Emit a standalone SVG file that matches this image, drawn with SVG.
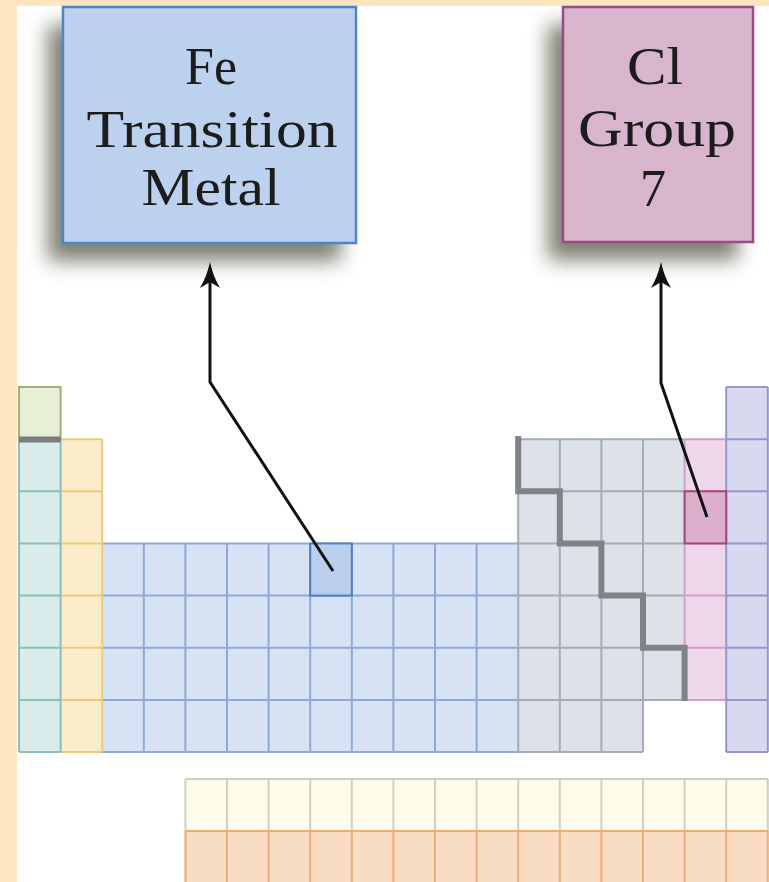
<svg xmlns="http://www.w3.org/2000/svg" width="769" height="882" viewBox="0 0 769 882">
  <style>
    .label { font-family: "Liberation Serif", "Times New Roman", serif; font-size: 52px; fill: #1c1c1c; text-anchor: middle; }
    .cell { stroke-width: 2; }
    .grid { fill: none; stroke-width: 2; }
    .wire { fill: none; stroke: #111; stroke-width: 3; stroke-linejoin: miter; }
    .shadow { fill: #5e5e50; filter: url(#soft); opacity: 0.8; }
  </style>
  <defs>
    <filter id="soft" x="-30%" y="-30%" width="160%" height="160%">
      <feGaussianBlur stdDeviation="10"/>
    </filter>
    <marker id="head" viewBox="0 0 26 22" refX="20" refY="11" markerWidth="26" markerHeight="22" markerUnits="userSpaceOnUse" orient="auto">
      <path d="M0,1 Q12,8 26,11 Q12,14 0,21 L6,11 Z" fill="#111"/>
    </marker>
  </defs>

  <!-- page frame -->
  <rect x="0" y="0" width="769" height="882" fill="#ffffff"/>

  <!-- callout shadows sit under the frame strip -->
  <rect class="shadow" x="48" y="25" width="293" height="236"/>
  <rect class="shadow" x="548" y="25" width="190" height="235"/>

  <rect x="0" y="0" width="17" height="882" fill="#fde6bf"/>
  <rect x="0" y="0" width="769" height="6" fill="#fde6bf"/>

  <!-- periodic table blocks -->
  <g id="table">
    <!-- transition metals: cols 3-12, periods 4-7 -->
    <g id="transition-metals">
      <rect x="102.2" y="543.45" width="416" height="208.6" fill="#d7e3f5"/>
      <path class="grid" stroke="#8fa8d5" d="M102.2,543.45 H518.2 M102.2,595.6 H518.2 M102.2,647.75 H518.2 M102.2,699.9 H518.2 M102.2,752.05 H518.2
        M143.8,543.45 V752.05 M185.4,543.45 V752.05 M227,543.45 V752.05 M268.6,543.45 V752.05 M310.2,543.45 V752.05
        M351.8,543.45 V752.05 M393.4,543.45 V752.05 M435,543.45 V752.05 M476.6,543.45 V752.05"/>
    </g>
    <!-- p-block -->
    <g id="p-block">
      <path d="M518.2,439.2 H684.6 V699.9 H643 V752.05 H518.2 Z" fill="#dde2e9"/>
      <path class="grid" stroke="#a3abb6" d="M518.2,439.2 H684.6 M518.2,491.3 H684.6 M518.2,543.45 H684.6 M518.2,595.6 H684.6 M518.2,647.75 H684.6 M518.2,699.9 H684.6 M518.2,752.05 H643
        M518.2,439.2 V752.05 M559.8,439.2 V752.05 M601.4,439.2 V752.05 M643,439.2 V752.05"/>
    </g>
    <!-- halogens -->
    <g id="halogens">
      <rect x="684.6" y="439.2" width="41.6" height="260.7" fill="#eed7ea"/>
      <path class="grid" stroke="#cf9fc6" d="M684.6,439.2 H726.2 M684.6,491.3 H726.2 M684.6,543.45 H726.2 M684.6,595.6 H726.2 M684.6,647.75 H726.2 M684.6,699.9 H726.2
        M684.6,439.2 V699.9"/>
    </g>
    <!-- noble gases -->
    <g id="noble-gases">
      <rect x="726.2" y="387" width="41.6" height="365.05" fill="#d7d9ef"/>
      <path class="grid" stroke="#9496cf" d="M726.2,387 H767.8 M726.2,439.2 H767.8 M726.2,491.3 H767.8 M726.2,543.45 H767.8 M726.2,595.6 H767.8 M726.2,647.75 H767.8 M726.2,699.9 H767.8 M726.2,752.05 H767.8
        M726.2,387 V752.05 M767.8,387 V752.05"/>
    </g>
    <!-- group 2 -->
    <g id="group-2">
      <rect x="60.6" y="439.2" width="41.6" height="312.85" fill="#fdecca"/>
      <path class="grid" stroke="#ecca7c" d="M60.6,439.2 H102.2 M60.6,491.3 H102.2 M60.6,543.45 H102.2 M60.6,595.6 H102.2 M60.6,647.75 H102.2 M60.6,699.9 H102.2 M60.6,752.05 H102.2
        M102.2,439.2 V752.05"/>
    </g>
    <!-- group 1 -->
    <g id="group-1">
      <rect x="19" y="439.2" width="41.6" height="312.85" fill="#d9ecea"/>
      <path class="grid" stroke="#86c0c0" d="M19,439.2 H60.6 M19,491.3 H60.6 M19,543.45 H60.6 M19,595.6 H60.6 M19,647.75 H60.6 M19,699.9 H60.6 M19,752.05 H60.6
        M19,439.2 V752.05 M60.6,439.2 V752.05"/>
    </g>
    <!-- hydrogen -->
    <rect id="hydrogen" class="cell" x="19" y="387" width="41.6" height="52.2" fill="#e6f0d5" stroke="#a2ae7c"/>
    <line x1="19" y1="439.5" x2="60.6" y2="439.5" stroke="#7b7c7e" stroke-width="6"/>

    <!-- metal / non-metal divide -->
    <path d="M518.2,436 V491.3 H559.8 V543.45 H601.4 V595.6 H643 V647.75 H684.6 V701" fill="none" stroke="#808285" stroke-width="6" stroke-linejoin="miter"/>

    <!-- highlighted elements -->
    <rect id="fe-cell" class="cell" x="310.2" y="543.45" width="41.6" height="52.15" fill="#b9cfec" stroke="#4c81c2"/>
    <rect id="cl-cell" class="cell" x="684.6" y="491.3" width="41.6" height="52.15" fill="#dcb0cc" stroke="#a9437e"/>

    <!-- lanthanides and actinides -->
    <g id="f-block">
      <rect x="185.4" y="779" width="582.4" height="52" fill="#fffcec"/>
      <rect x="185.4" y="831" width="582.4" height="52" fill="#f8dcc3"/>
      <path class="grid" stroke="#cfcfbf" d="M185.4,779 H767.8
        M185.4,779 V831 M227,779 V831 M268.6,779 V831 M310.2,779 V831 M351.8,779 V831 M393.4,779 V831 M435,779 V831
        M476.6,779 V831 M518.2,779 V831 M559.8,779 V831 M601.4,779 V831 M643,779 V831 M684.6,779 V831 M726.2,779 V831 M767.8,779 V831"/>
      <path class="grid" stroke="#efad6e" d="M185.4,831 H767.8
        M185.4,831 V883 M227,831 V883 M268.6,831 V883 M310.2,831 V883 M351.8,831 V883 M393.4,831 V883 M435,831 V883
        M476.6,831 V883 M518.2,831 V883 M559.8,831 V883 M601.4,831 V883 M643,831 V883 M684.6,831 V883 M726.2,831 V883 M767.8,831 V883"/>
    </g>
  </g>

  <!-- callout boxes -->
  <g id="fe-box">
    <rect x="63" y="7" width="293" height="236" fill="#bcd1ed" stroke="#4d86c6" stroke-width="2.5"/>
    <text class="label" x="211" y="84">Fe</text>
    <text class="label" x="212" y="147" textLength="251" lengthAdjust="spacingAndGlyphs">Transition</text>
    <text class="label" x="211" y="205" textLength="139" lengthAdjust="spacingAndGlyphs">Metal</text>
  </g>
  <g id="cl-box">
    <rect x="563" y="7" width="190" height="235" fill="#d8b5cd" stroke="#9c4a86" stroke-width="2.5"/>
    <text class="label" x="655" y="84" textLength="56" lengthAdjust="spacingAndGlyphs">Cl</text>
    <text class="label" x="657" y="146" textLength="158" lengthAdjust="spacingAndGlyphs">Group</text>
    <text class="label" x="653" y="206">7</text>
  </g>

  <!-- connectors -->
  <g id="connectors">
    <polyline class="wire" points="333,571 210,382 210,268" marker-end="url(#head)"/>
    <polyline class="wire" points="707,517 661,383 661,268" marker-end="url(#head)"/>
  </g>
</svg>
